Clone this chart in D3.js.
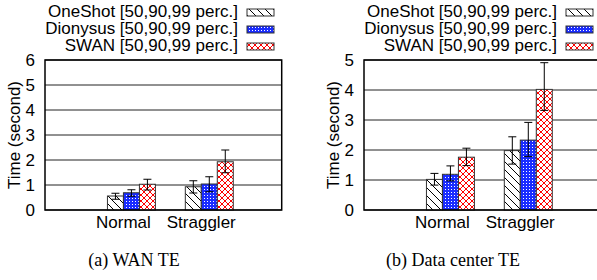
<!DOCTYPE html>
<html>
<head>
<meta charset="utf-8">
<script src="https://cdn.jsdelivr.net/npm/d3@7"></script>
<style>
  body { margin: 0; background: #fff; }
  text { font-family: "Liberation Sans", Arial, sans-serif; fill: #000; }
  .caption { font-family: "Liberation Serif", "Times New Roman", serif; }
</style>
</head>
<body>
<script>
  const categories = ['Normal', 'Straggler'];
  const seriesNames = [
    'OneShot [50,90,99 perc.]',
    'Dionysus [50,90,99 perc.]',
    'SWAN [50,90,99 perc.]',
  ];

  // WAN TE, one array per series: [Normal, Straggler]
  const wanP50 = [[0.43, 0.68], [0.55, 0.73], [0.80, 1.49]];
  const wanP90 = [[0.56, 0.93], [0.69, 1.04], [1.03, 1.93]];
  const wanP99 = [[0.67, 1.17], [0.81, 1.33], [1.23, 2.40]];
  const wanTicks = [0, 1, 2, 3, 4, 5, 6];

  // Data center TE
  const dcP50 = [[0.83, 1.53], [0.97, 1.78], [1.48, 3.32]];
  const dcP90 = [[1.02, 1.98], [1.19, 2.33], [1.76, 4.02]];
  const dcP99 = [[1.22, 2.44], [1.47, 2.92], [2.06, 4.91]];
  const dcTicks = [0, 1, 2, 3, 4, 5];

  const captions = ['(a) WAN TE', '(b) Data center TE'];

  const width = 597;
  const height = 280;

  const svg = d3.select('body')
    .append('svg')
    .attr('width', width)
    .attr('height', height);

  svg.append('rect').attr('width', width).attr('height', height).attr('fill', '#fff');

  const defs = svg.append('defs');
  // hatch for OneShot
  const hatch = defs.append('pattern')
    .attr('id', 'pat0')
    .attr('patternUnits', 'userSpaceOnUse')
    .attr('width', 8).attr('height', 8);
  hatch.append('rect').attr('width', 8).attr('height', 8).attr('fill', '#fff');
  hatch.append('path')
    .attr('d', 'M0,0L8,8M-2,6L2,10M6,-2L10,2')
    .attr('stroke', '#000').attr('stroke-width', 1);
  // blue checker for Dionysus
  const checker = defs.append('pattern')
    .attr('id', 'pat1')
    .attr('patternUnits', 'userSpaceOnUse')
    .attr('width', 3).attr('height', 3);
  checker.append('rect').attr('width', 3).attr('height', 3).attr('fill', '#1a2cff');
  checker.append('rect').attr('width', 1).attr('height', 1).attr('fill', '#fff');
  // red crosshatch for SWAN
  const cross = defs.append('pattern')
    .attr('id', 'pat2')
    .attr('patternUnits', 'userSpaceOnUse')
    .attr('width', 6).attr('height', 6);
  cross.append('rect').attr('width', 6).attr('height', 6).attr('fill', '#fff');
  cross.append('path')
    .attr('d', 'M0,0L6,6M6,0L0,6')
    .attr('stroke', '#ff0000').attr('stroke-width', 1);

  const fills = ['url(#pat0)', 'url(#pat1)', 'url(#pat2)'];

  function drawPanel(offsetX, p50, p90, p99, ticks, caption) {
    const g = svg.append('g').attr('transform', `translate(${offsetX},0)`);
    const plotLeft = 45;
    const plotRight = 281.7;
    const plotTop = 60;
    const plotBottom = 210;

    const y = d3.scaleLinear()
      .domain([0, d3.max(ticks)])
      .range([plotBottom, plotTop]);
    const x = d3.scaleLinear()
      .domain([-1.11, 1.93])
      .range([plotLeft, plotRight]);
    const sub = d3.scaleBand()
      .domain(d3.range(seriesNames.length))
      .range([-0.308, 0.308]);

    // grid
    g.append('g')
      .selectAll('line')
      .data(ticks)
      .enter()
      .append('line')
      .attr('x1', plotLeft).attr('x2', plotRight)
      .attr('y1', (d) => y(d)).attr('y2', (d) => y(d))
      .attr('stroke', '#222').attr('stroke-width', 1);

    // y axis labels
    const yAxis = d3.axisLeft(y)
      .tickValues(ticks)
      .tickFormat(d3.format('d'))
      .tickSize(0)
      .tickPadding(10);
    const ya = g.append('g').attr('transform', `translate(${plotLeft},0)`).call(yAxis);
    ya.select('.domain').remove();
    ya.selectAll('text')
      .style('font-size', '17px')
      .style('font-family', '"Liberation Sans", Arial, sans-serif');

    g.append('text')
      .text('Time (second)')
      .attr('transform', `translate(20,${(plotTop + plotBottom) / 2}) rotate(-90)`)
      .attr('text-anchor', 'middle')
      .style('font-size', '17px');

    // bars
    seriesNames.forEach((s, si) => {
      const bw = x(sub.bandwidth()) - x(0);
      const grp = g.append('g');
      grp.selectAll('rect')
        .data(categories)
        .enter()
        .append('rect')
        .attr('x', (d, ci) => x(ci + sub(si)))
        .attr('y', (d, ci) => y(p90[si][ci]))
        .attr('width', bw)
        .attr('height', (d, ci) => y(0) - y(p90[si][ci]))
        .attr('fill', fills[si])
        .attr('stroke', '#333')
        .attr('stroke-width', 1);
      const cx = (ci) => x(ci + sub(si)) + bw / 2;
      const eb = grp.selectAll('g.err')
        .data(categories)
        .enter()
        .append('g')
        .attr('class', 'err');
      eb.append('line')
        .attr('x1', (d, ci) => cx(ci)).attr('x2', (d, ci) => cx(ci))
        .attr('y1', (d, ci) => y(p50[si][ci])).attr('y2', (d, ci) => y(p99[si][ci]))
        .attr('stroke', '#000');
      [p50, p99].forEach((arr) => {
        eb.append('line')
          .attr('x1', (d, ci) => cx(ci) - 4).attr('x2', (d, ci) => cx(ci) + 4)
          .attr('y1', (d, ci) => y(arr[si][ci])).attr('y2', (d, ci) => y(arr[si][ci]))
          .attr('stroke', '#000');
      });
    });

    // frame
    g.append('rect')
      .attr('x', plotLeft).attr('y', plotTop)
      .attr('width', plotRight - plotLeft).attr('height', plotBottom - plotTop)
      .attr('fill', 'none').attr('stroke', '#000').attr('stroke-width', 1.5);

    // category labels
    g.selectAll('text.cat')
      .data(categories)
      .enter()
      .append('text')
      .attr('class', 'cat')
      .attr('x', (d, i) => x(i) - 8)
      .attr('y', 228)
      .attr('text-anchor', 'middle')
      .style('font-size', '17px')
      .text((d) => d);

    // legend
    const legend = g.append('g');
    seriesNames.forEach((s, si) => {
      const base = 17 + si * 17;
      legend.append('text')
        .attr('x', 238).attr('y', base)
        .attr('text-anchor', 'end')
        .style('font-size', '17px')
        .text(s);
      legend.append('rect')
        .attr('x', 247).attr('y', base - 8)
        .attr('width', 27).attr('height', 7)
        .attr('fill', fills[si])
        .attr('stroke', '#333').attr('stroke-width', 1);
    });

    g.append('text')
      .attr('class', 'caption')
      .attr('x', 134).attr('y', 266)
      .attr('text-anchor', 'middle')
      .style('font-size', '18px')
      .text(caption);
  }

  drawPanel(0, wanP50, wanP90, wanP99, wanTicks, captions[0]);
  drawPanel(319, dcP50, dcP90, dcP99, dcTicks, captions[1]);
</script>
</body>
</html>
